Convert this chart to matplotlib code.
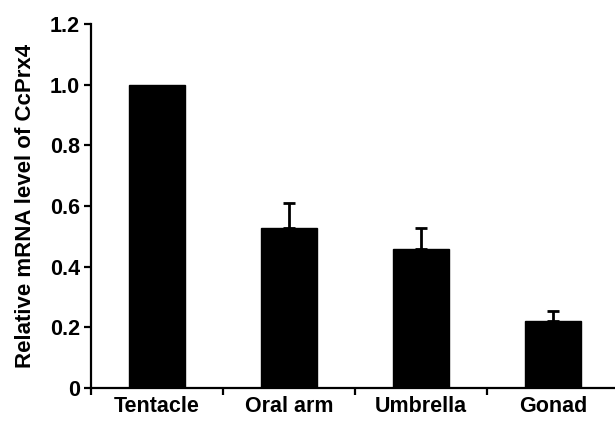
import numpy as np
import matplotlib
matplotlib.use('Agg')
import matplotlib.pyplot as plt
from matplotlib.ticker import FixedLocator, NullFormatter

plt.rcParams['font.family'] = ['Liberation Sans', 'DejaVu Sans']
plt.rcParams['font.weight'] = 'bold'

# data
tissues = ['Tentacle', 'Oral arm', 'Umbrella', 'Gonad']
levels = [1.0, 0.529, 0.459, 0.222]
errors = [0.0, 0.080, 0.067, 0.032]
y_ticks = [0, 0.2, 0.4, 0.6, 0.8, 1.0, 1.2]
y_tick_labels = ['0', '0.2', '0.4', '0.6', '0.8', '1.0', '1.2']

fig = plt.figure(figsize=(6.15, 4.21), dpi=100)
ax = fig.add_axes([91 / 615, 33 / 421, 528 / 615, 364 / 421])

x = np.arange(len(tissues))
ax.bar(x, levels, width=0.42, color='black', edgecolor='black', zorder=2)

# only the bars that have a spread get an upper error bar
err_x = [xi for xi, e in zip(x, errors) if e > 0]
err_y = [v for v, e in zip(levels, errors) if e > 0]
err_up = [e for e in errors if e > 0]
ax.errorbar(err_x, err_y, yerr=[np.zeros(len(err_up)), err_up], fmt='none',
            ecolor='black', elinewidth=2, capsize=4.5, capthick=2, zorder=1)

ax.set_xlim(-0.5, 3.5)
ax.set_ylim(0, 1.2)

ax.spines['top'].set_visible(False)
ax.spines['right'].set_visible(False)
ax.spines['left'].set_linewidth(1.6)
ax.spines['bottom'].set_linewidth(1.6)

ax.set_yticks(y_ticks)
ax.set_yticklabels(y_tick_labels, fontsize=15.5, fontweight='bold')
ax.tick_params(axis='y', direction='out', length=5, width=1.6, pad=3)

# category labels at bar centres, tick marks on the boundaries
ax.set_xticks(x)
ax.set_xticklabels(tissues, fontsize=15.5, fontweight='bold')
ax.tick_params(axis='x', which='major', length=0, pad=5.5)
ax.xaxis.set_minor_locator(FixedLocator(np.arange(-0.5, 4, 1.0)))
ax.xaxis.set_minor_formatter(NullFormatter())
ax.tick_params(axis='x', which='minor', direction='out', length=5, width=1.6)

ax.set_ylabel('Relative mRNA level of CcPrx4', fontsize=16, fontweight='bold', labelpad=10)

fig.savefig('out.png', dpi=100)
